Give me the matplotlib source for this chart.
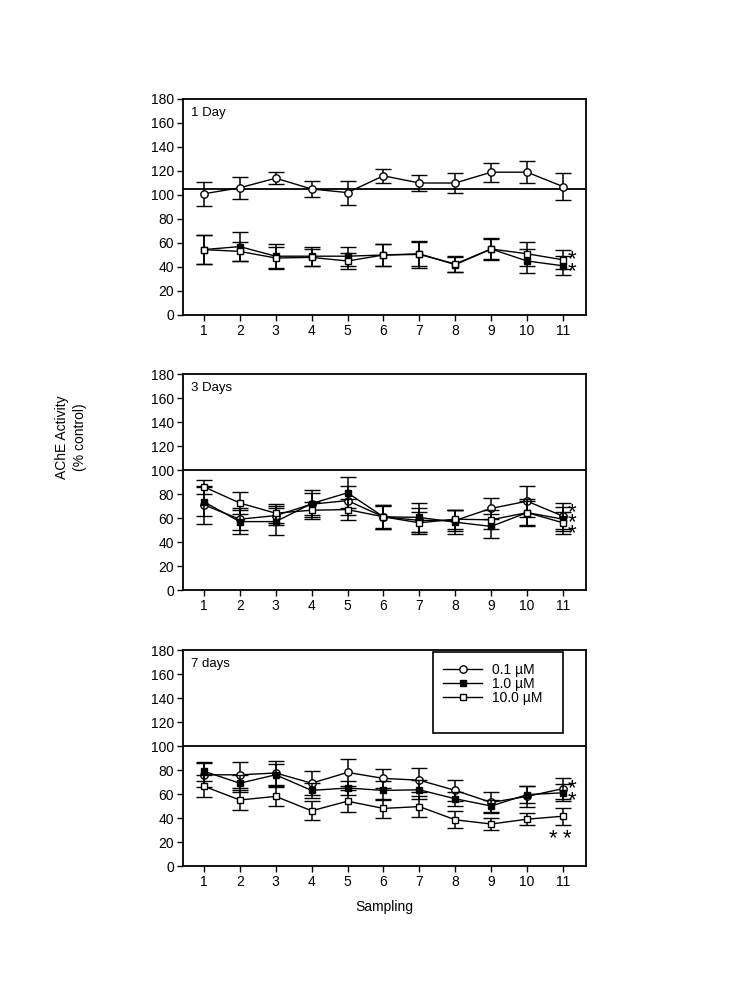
import matplotlib
matplotlib.use("Agg")
import matplotlib.pyplot as plt
from matplotlib.patches import Rectangle
from matplotlib.lines import Line2D

plt.rcParams['font.family'] = ['Liberation Sans', 'DejaVu Sans']

sampling = list(range(1, 12))
series_labels = ["0.1 \u00b5M", "1.0 \u00b5M", "10.0 \u00b5M"]
panel_titles = ["1 Day", "3 Days", "7 days"]
ref_levels = [105, 100, 100]

# Panel 1 (1 Day)
d1_low = [101, 106, 114, 105, 102, 116, 110, 110, 119, 119, 107]
d1_low_err = [10, 9, 5, 7, 10, 6, 7, 8, 8, 9, 11]
d1_mid = [54.5, 57, 49, 49, 49, 50, 51, 42, 55, 45, 41]
d1_mid_err = [12, 12, 10, 8, 8, 9, 10, 6, 9, 10, 8]
d1_high = [54.5, 53, 47.5, 48, 45, 50, 50.5, 42.5, 55, 51, 46]
d1_high_err = [12, 8, 9, 7, 7, 9, 11, 7, 8, 10, 8]

# Panel 2 (3 Days)
d3_low = [71, 59, 62, 71.5, 74.5, 61, 58, 58, 68, 74, 61.5]
d3_low_err = [16, 9, 8, 9, 12, 10, 10, 9, 9, 13, 11]
d3_mid = [73.5, 57, 57, 72, 81, 61, 60.5, 56.5, 53, 64.5, 59]
d3_mid_err = [12, 10, 11, 11, 13, 10, 12, 10, 10, 11, 10]
d3_high = [86, 72.5, 64, 66.5, 67, 61, 56, 59, 58.5, 64.5, 56]
d3_high_err = [6, 9, 8, 7, 9, 9, 9, 8, 8, 10, 9]

# Panel 3 (7 days)
d7_low = [76, 76, 77.5, 69, 78, 73, 71.5, 63, 53, 58, 64.5]
d7_low_err = [10, 11, 10, 10, 11, 8, 10, 9, 9, 9, 9]
d7_mid = [79, 69, 76, 63, 65, 63, 63.5, 56, 50, 59.5, 61]
d7_mid_err = [8, 7, 9, 6, 6, 8, 8, 6, 5, 7, 7]
d7_high = [66.5, 55, 58, 46, 54, 48, 49.5, 38.5, 35, 39, 41.5]
d7_high_err = [9, 8, 8, 8, 9, 8, 9, 7, 5, 5, 7]

# significance asterisk columns: (x, y, text) per panel
stars1 = [(11.25, 41.0, "*\n*")]
stars2 = [(11.25, 56.0, "*\n*\n*")]
stars3 = [(11.25, 59.5, "*\n*"), (10.72, 23, "*"), (11.11, 23, "*")]
star_spacing = [0.48, 0.34, 0.48]

panels = [
    (d1_low, d1_low_err, d1_mid, d1_mid_err, d1_high, d1_high_err, stars1),
    (d3_low, d3_low_err, d3_mid, d3_mid_err, d3_high, d3_high_err, stars2),
    (d7_low, d7_low_err, d7_mid, d7_mid_err, d7_high, d7_high_err, stars3),
]

fig = plt.figure(figsize=(7.5, 9.91), dpi=100)
W, H = 750.0, 991.0
left_px, right_px = 183, 586
tops = [99, 374, 650]
ph = 216

styles = [
    dict(marker='o', mfc='white', mec='black', ms=5.3),
    dict(marker='s', mfc='black', mec='black', ms=4.3),
    dict(marker='s', mfc='white', mec='black', ms=4.3),
]

for i, (lo, loe, mi, mie, hi, hie, stars) in enumerate(panels):
    top = tops[i]
    ax = fig.add_axes([left_px / W, 1 - (top + ph) / H, (right_px - left_px) / W, ph / H])
    ax.axhline(ref_levels[i], color='black', lw=1.3, zorder=1)
    order = [(hi, hie, 2), (mi, mie, 1), (lo, loe, 0)]
    for vals, errs, k in order:
        ax.errorbar(sampling, vals, yerr=errs, color='black', lw=1.0,
                    elinewidth=1.1, capsize=5.5, capthick=1.1,
                    mew=1.0, zorder=3 + k, **styles[k])
    for x, y, s in stars:
        ax.text(x, y, s, fontsize=16, ha='center', va='center', color='black',
                linespacing=star_spacing[i])
    ax.set_xlim(0.42, 11.64)
    ax.set_ylim(0, 180)
    ax.set_yticks(range(0, 181, 20))
    ax.set_xticks(sampling)
    ax.tick_params(direction='out', length=4, width=1.0, labelsize=10, pad=2.5)
    for sp in ax.spines.values():
        sp.set_linewidth(1.3)
    ax.text(0.02, 0.965, panel_titles[i], transform=ax.transAxes, fontsize=9.5,
            ha='left', va='top')
    if i == 2:
        ax.set_xlabel('Sampling', fontsize=10, labelpad=8)
        handles = [Line2D([], [], color='black', lw=1.0, mew=1.0, **st) for st in styles]
        ax.legend(handles, series_labels, loc='upper left',
                  bbox_to_anchor=(0.615, 0.998), frameon=False, fontsize=10,
                  handlelength=2.8, handletextpad=0.7, labelspacing=0.0,
                  borderpad=0.4)
        ax.add_patch(Rectangle((0.62, 0.616), 0.323, 0.374, transform=ax.transAxes,
                               fill=False, lw=1.2, edgecolor='black', zorder=10))

fig.text(0.083, 1 - 437 / H, 'AChE Activity', rotation=90, ha='center', va='center',
         fontsize=10)
fig.text(0.107, 1 - 437 / H, '(% control)', rotation=90, ha='center', va='center',
         fontsize=10)

fig.savefig('out.png', dpi=100)
